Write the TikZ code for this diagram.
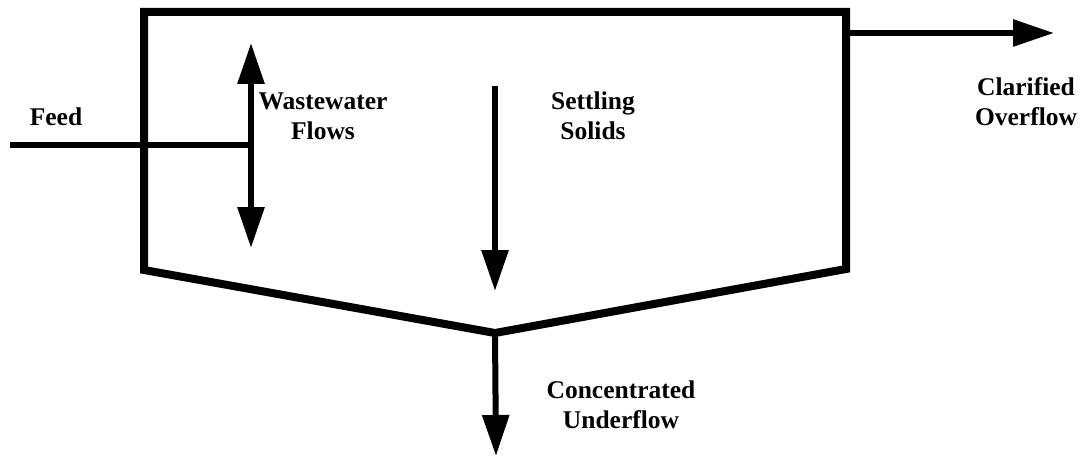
\documentclass[tikz,border=0pt]{standalone}
\usepackage{fontspec}
\setmainfont{Liberation Serif}
\usetikzlibrary{arrows.meta}
\begin{document}
\begin{tikzpicture}[x=1pt,y=-1pt,
  wall/.style={line width=8pt, line join=miter},
  pipe/.style={line width=6pt},
  flow/.style={line width=6pt, -{Triangle[length=41pt,width=26pt]}},
  lbl/.style={font=\fontsize{25.5}{30}\selectfont\bfseries, align=center, inner sep=0pt}]
\useasboundingbox (0,0) rectangle (1086,457);

% tank outline
\coordinate (tl) at (144,12);
\coordinate (tr) at (846,12);
\coordinate (br) at (846,269);
\coordinate (bl) at (144,270);
\coordinate (vx) at (495,333);
\draw[wall] (tl) -- (tr) -- (br) -- (vx) -- (bl) -- cycle;

% feed pipe and inlet distribution
\coordinate (feedin) at (10,145);
\coordinate (junc) at (251,145);
\coordinate (uptip) at (251,43);
\coordinate (dntip) at (251,248);
\draw[pipe] (feedin) -- (junc);
\draw[flow] (junc) -- (uptip);
\draw[flow] (junc) -- (dntip);

% settling solids
\coordinate (sstart) at (495,86);
\coordinate (send) at (495,291);
\draw[flow] (sstart) -- (send);

% clarified overflow
\coordinate (ostart) at (849,33);
\coordinate (oend) at (1054,33);
\draw[flow] (ostart) -- (oend);

% concentrated underflow
\coordinate (uend) at (496,456);
\draw[flow] (vx) -- (uend);

% labels
\node[lbl] (feed) at (56,117) {Feed};
\node[lbl] (ww) at (323,116) {Wastewater\\Flows};
\node[lbl] (ss) at (593,116) {Settling\\Solids};
\node[lbl] (co) at (1026,102) {Clarified\\Overflow};
\node[lbl] (cu) at (621,405) {Concentrated\\Underflow};
\end{tikzpicture}
\end{document}
